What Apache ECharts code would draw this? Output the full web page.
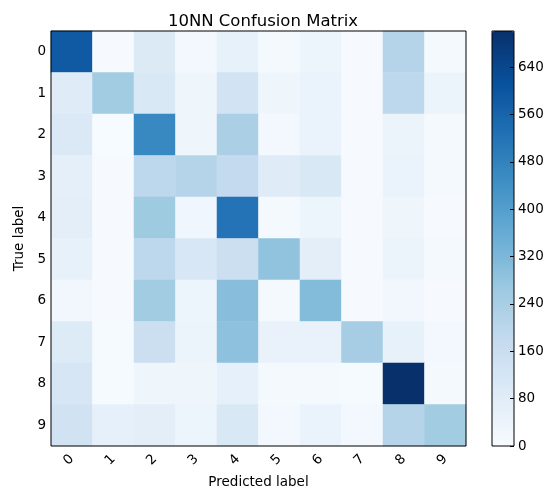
<!DOCTYPE html>
<html>
<head>
<meta charset="utf-8">
<script src="https://cdn.jsdelivr.net/npm/echarts@6/dist/echarts.min.js"></script>
<style>
  html, body { margin: 0; padding: 0; background: #fff; }
  #chart { width: 545px; height: 489px; }
</style>
</head>
<body>
<div id="chart"></div>
<script>
const labels = ['0', '1', '2', '3', '4', '5', '6', '7', '8', '9'];
// rows = true label, columns = predicted label
const matrix = [
  [590, 5, 95, 15, 55, 10, 35, 5, 210, 12],
  [85, 255, 105, 30, 130, 30, 45, 5, 195, 40],
  [100, 2, 465, 30, 235, 18, 45, 3, 42, 10],
  [65, 5, 195, 210, 180, 85, 105, 5, 45, 10],
  [70, 3, 260, 25, 520, 10, 35, 5, 30, 5],
  [55, 3, 195, 110, 155, 285, 70, 5, 40, 10],
  [22, 3, 255, 35, 300, 10, 310, 5, 20, 5],
  [90, 8, 155, 40, 290, 50, 48, 245, 55, 15],
  [115, 8, 30, 30, 58, 12, 12, 8, 701, 12],
  [135, 58, 70, 38, 105, 15, 45, 15, 210, 255]
];
const colorbarTicks = [0, 80, 160, 240, 320, 400, 480, 560, 640];
const vmax = 701;

const blues = ['#f7fbff', '#deebf7', '#c6dbef', '#9ecae1', '#6baed6',
  '#4292c6', '#2171b5', '#08519c', '#08306b'];

const cells = [];
matrix.forEach((row, i) => row.forEach((v, j) => cells.push([j, i, v])));

const font = 'DejaVu Sans';
const fs = 13.5;
const tickStyle = { show: true, inside: true, length: 4, alignWithLabel: true, lineStyle: { color: '#000' } };

const myChart = echarts.init(document.getElementById('chart'));
myChart.setOption({
  animation: false,
  textStyle: { fontFamily: font },
  title: {
    text: '10NN Confusion Matrix',
    left: 258, top: 8, textAlign: 'center',
    textStyle: { fontFamily: font, fontSize: 16.5, fontWeight: 'normal', color: '#000' }
  },
  grid: [
    { left: 51, top: 31, width: 415, height: 415, show: true, z: 10, outerBoundsMode: 'none',
      borderColor: '#000', borderWidth: 1, backgroundColor: 'transparent' },
    { left: 492, top: 31, width: 22, height: 415, show: true, z: 10, outerBoundsMode: 'none',
      borderColor: '#000', borderWidth: 1, backgroundColor: 'transparent' }
  ],
  xAxis: [
    {
      type: 'category', data: labels, gridIndex: 0, position: 'bottom',
      name: 'Predicted label', nameLocation: 'middle', nameGap: 28,
      nameTextStyle: { fontFamily: font, fontSize: fs, color: '#000' },
      axisLine: { show: false }, axisTick: tickStyle, splitLine: { show: false },
      axisLabel: { rotate: 45, margin: 11, fontFamily: font, fontSize: fs, color: '#000' }
    },
    {
      type: 'category', data: labels, gridIndex: 0, position: 'top',
      axisLine: { show: false }, axisTick: tickStyle, axisLabel: { show: false }
    },
    { type: 'value', gridIndex: 1, show: false }
  ],
  yAxis: [
    {
      type: 'category', data: labels, gridIndex: 0, inverse: true, position: 'left',
      name: 'True label', nameLocation: 'middle', nameGap: 23, nameRotate: 90,
      nameTextStyle: { fontFamily: font, fontSize: fs, color: '#000' },
      axisLine: { show: false }, axisTick: tickStyle, splitLine: { show: false },
      axisLabel: { margin: 5, fontFamily: font, fontSize: fs, color: '#000' }
    },
    {
      type: 'category', data: labels, gridIndex: 0, inverse: true, position: 'right',
      axisLine: { show: false }, axisTick: tickStyle, axisLabel: { show: false }
    },
    {
      type: 'value', gridIndex: 1, position: 'right', min: 0, max: vmax, z: 20,
      axisLine: { show: false, onZero: false }, splitLine: { show: false },
      axisTick: { show: true, inside: true, length: 4, customValues: colorbarTicks, lineStyle: { color: '#000' } },
      axisLabel: { margin: 4, fontFamily: font, fontSize: fs, color: '#000', customValues: colorbarTicks }
    }
  ],
  visualMap: {
    type: 'continuous', min: 0, max: vmax, calculable: false,
    left: 492, top: 31, itemWidth: 22, itemHeight: 415, padding: 0,
    text: null, showLabel: false, seriesIndex: 0,
    inRange: { color: blues }
  },
  series: [{
    type: 'heatmap', xAxisIndex: 0, yAxisIndex: 0, data: cells,
    itemStyle: { borderWidth: 0 }, emphasis: { disabled: true }
  }]
});
</script>
</body>
</html>
